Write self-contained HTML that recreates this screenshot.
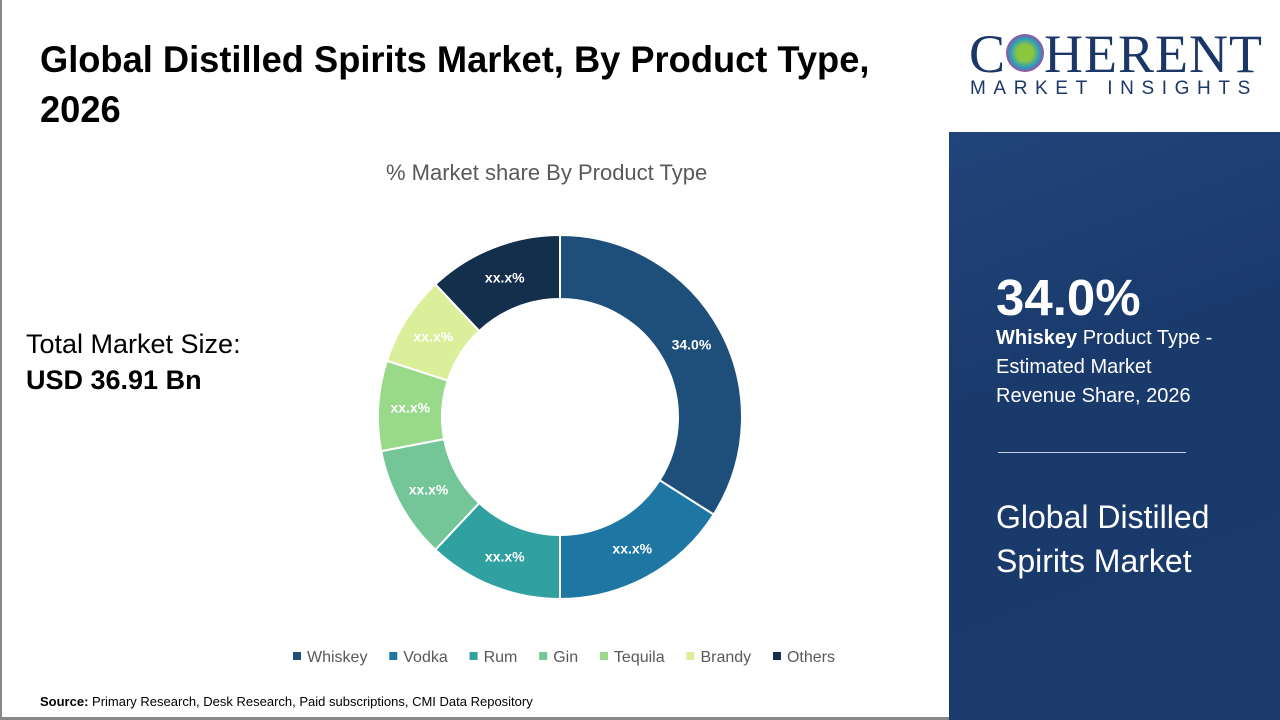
<!DOCTYPE html>
<html><head><meta charset="utf-8"><style>
*{margin:0;padding:0;box-sizing:border-box}
body{width:1280px;height:720px;position:relative;background:#fff;font-family:"Liberation Sans",sans-serif;overflow:hidden}
.abs{position:absolute}
</style></head><body>
<div class="abs" style="left:0;top:0;width:2px;height:720px;background:#888"></div>
<div class="abs" style="left:0;top:717px;width:1280px;height:3px;background:#888"></div>
<div class="abs" style="left:40px;top:35px;font-weight:bold;font-size:37px;line-height:50px;color:#000;white-space:nowrap;transform:scaleX(0.98);transform-origin:left top">Global Distilled Spirits Market, By Product Type,<br>2026</div>
<div class="abs" style="left:386px;top:160px;font-size:22px;color:#595959">% Market share By Product Type</div>
<div class="abs" style="left:26px;top:326px;font-size:27px;color:#000;line-height:36px">Total Market Size:<br><b>USD 36.91 Bn</b></div>
<svg class="abs" id="chart" style="left:0;top:0" width="948" height="720"></svg>
<div class="abs" style="left:40px;top:694px;font-size:13px;color:#000"><b>Source:</b> Primary Research, Desk Research, Paid subscriptions, CMI Data Repository</div>
<div class="abs" style="left:949px;top:0;width:331px;height:132px;background:#fff">
  <div class="abs" style="left:20px;top:28px;font-family:'Liberation Serif',serif;font-size:54px;color:#1b3768;letter-spacing:1px;line-height:52px">C<span style="display:inline-block;width:38px;height:38px;border-radius:50%;background:radial-gradient(circle,#8cc63f 30%,#2a9bc0 55%,#c2388f 75%,transparent 77%);vertical-align:0"></span>HERENT</div>
  <div class="abs" style="left:21px;top:78px;font-size:19px;color:#1b3768;letter-spacing:7.6px">MARKET INSIGHTS</div>
</div>
<div class="abs" style="left:949px;top:132px;width:331px;height:588px;background:linear-gradient(160deg,#21447a 0%,#1a3a6c 40%,#1b3b6d 100%)">
  <div class="abs" style="left:47px;top:136px;font-size:51px;font-weight:bold;color:#fff">34.0%</div>
  <div class="abs" style="left:47px;top:192px;font-size:20px;color:#fff;line-height:29px"><b>Whiskey</b> Product Type -<br>Estimated Market<br>Revenue Share, 2026</div>
  <div class="abs" style="left:49px;top:320px;width:188px;height:1px;background:#c8d0de"></div>
  <div class="abs" style="left:47px;top:363px;font-size:32px;color:#fff;line-height:44px">Global Distilled<br>Spirits Market</div>
</div>
<script>
const categories=["Whiskey","Vodka","Rum","Gin","Tequila","Brandy","Others"];
const shares=[34,16,12,10,8,8,12];
const labels=["34.0%","xx.x%","xx.x%","xx.x%","xx.x%","xx.x%","xx.x%"];
const colors=["#1d4f7a","#1e77a3","#31a0a1","#74c699","#98d98a","#dbef9a","#132f4b"];
const svg=document.getElementById('chart');const NS='http://www.w3.org/2000/svg';
const cx=560,cy=417,R=182,r=118;
const total=shares.reduce((a,b)=>a+b,0);
function pt(a,rad){return [cx+rad*Math.sin(a),cy-rad*Math.cos(a)];}
let acc=0;
shares.forEach((v,i)=>{
  const a0=acc/total*2*Math.PI;acc+=v;const a1=acc/total*2*Math.PI;
  const lg=(a1-a0)>Math.PI?1:0;
  const p1=pt(a0,R),p2=pt(a1,R),p3=pt(a1,r),p4=pt(a0,r);
  const p=document.createElementNS(NS,'path');
  p.setAttribute('d',`M${p1[0]},${p1[1]}A${R},${R} 0 ${lg} 1 ${p2[0]},${p2[1]}L${p3[0]},${p3[1]}A${r},${r} 0 ${lg} 0 ${p4[0]},${p4[1]}Z`);
  p.setAttribute('fill',colors[i]);p.setAttribute('stroke','#fff');p.setAttribute('stroke-width','2');
  
  
  svg.appendChild(p);
  const m=pt((a0+a1)/2,150);
  const t=document.createElementNS(NS,'text');
  t.setAttribute('x',m[0]);t.setAttribute('y',m[1]+5);t.setAttribute('text-anchor','middle');
  t.setAttribute('fill','#fff');t.setAttribute('font-size','14');t.setAttribute('font-weight','bold');
  t.setAttribute('font-family','Liberation Sans, sans-serif');
  t.textContent=labels[i];
  
  
  svg.appendChild(t);
});
// legend: flow layout spanning 293..835
const items=[];let widths=0;
categories.forEach((c,i)=>{
  const g=document.createElementNS(NS,'g');
  
  
  const s=document.createElementNS(NS,'rect');
  s.setAttribute('y',652);s.setAttribute('width',8);s.setAttribute('height',8);s.setAttribute('fill',colors[i]);
  g.appendChild(s);
  const t=document.createElementNS(NS,'text');
  t.setAttribute('y',662);t.setAttribute('font-size','16');t.setAttribute('fill','#595959');
  t.setAttribute('font-family','Liberation Sans, sans-serif');
  t.textContent=c;g.appendChild(t);
  svg.appendChild(g);
  const w=14+t.getComputedTextLength();widths+=w;items.push([s,t,w]);
});
const gap=(835-293-widths)/(items.length-1);
let x=293;
items.forEach(([s,t,w])=>{s.setAttribute('x',x);t.setAttribute('x',x+14);x+=w+gap;});
</script>
</body></html>
